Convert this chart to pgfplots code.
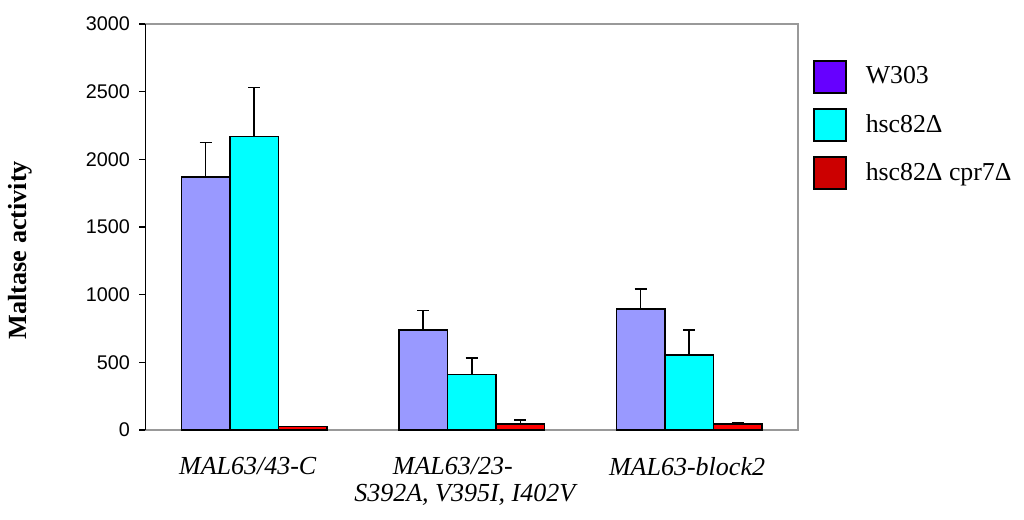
\documentclass[border=0pt]{standalone}
\usepackage{pgfplots}
\pgfplotsset{compat=1.18}
\usepackage{fontspec}
\setmainfont{Liberation Serif}
\newfontfamily\arialfont{Liberation Sans}
\definecolor{lav}{HTML}{9999FF}
\definecolor{legpurple}{HTML}{6600FF}
\definecolor{cyanb}{HTML}{00FFFF}
\definecolor{redb}{HTML}{FF0000}
\definecolor{legred}{HTML}{CC0000}
\definecolor{axgray}{HTML}{999999}
\begin{document}
\begin{tikzpicture}
\path[use as bounding box] (-72.75pt,-45pt) rectangle (439.25pt,215pt);
\begin{axis}[
  at={(0,0)}, anchor=south west,
  scale only axis,
  width=326.25pt, height=203pt,
  xmin=-0.5, xmax=2.5,
  ymin=0, ymax=3000,
  ytick={0,500,1000,1500,2000,2500,3000},
  ytick pos=left,
  xtick={-0.03,0.968,1.99},
  xticklabels={{MAL63/43-C},{MAL63/23-\hspace*{12pt}\\S392A, V395I, I402V},{MAL63-block2}},
  xticklabel style={align=center, font=\fontsize{13}{13.5}\selectfont\itshape, yshift=-7.3pt},
  x tick style={draw=none},
  major x tick style={draw=none},
  tick align=outside,
  y tick style={black, line width=0.6pt},
  major tick length=3pt,
  yticklabel style={font=\arialfont\fontsize{9.9}{11}\selectfont, xshift=-1.3pt},
  /pgf/number format/assume math mode=true,
  /pgf/number format/1000 sep={},
  axis line style={draw=axgray, line width=0.6pt},
  clip=false,
  ylabel={Maltase activity},
  every axis y label/.style={at={(axis description cs:-0.19234,0.443)}, rotate=90, anchor=center, font=\bfseries\fontsize{13.1}{14}\selectfont},
  legend image code/.code={\draw[#1, draw=black, line width=1pt] (0pt,-8pt) rectangle (16pt,8pt);},
  legend style={at={(rel axis cs:1,1)}, anchor=north west, xshift=7.5pt, yshift=-17.6pt,
    draw=none, fill=none, inner sep=0pt, row sep=7.2pt,
    font=\fontsize{12.9}{14}\selectfont,
    nodes={inner sep=0pt, anchor=west}, column sep=9.2pt},
  legend cell align=left,
]
\addplot[ybar, bar width=0.2235, bar shift=0, fill=lav, draw=black, line width=0.75pt, forget plot,
  error bars/.cd, y dir=plus, y explicit, error bar style={black, line width=0.8pt}, error mark options={rotate=90, mark size=3pt, black, line width=0.8pt}]
  coordinates {(-0.2235,1870) +- (0,253) (0.7765,739) +- (0,145) (1.7765,895) +- (0,146)};
\addplot[ybar, bar width=0.2235, bar shift=0, fill=cyanb, draw=black, line width=0.75pt, forget plot,
  error bars/.cd, y dir=plus, y explicit, error bar style={black, line width=0.8pt}, error mark options={rotate=90, mark size=3pt, black, line width=0.8pt}]
  coordinates {(0,2167) +- (0,363) (1,409) +- (0,121) (2,556) +- (0,183)};
\addplot[ybar, bar width=0.2235, bar shift=0, fill=redb, draw=black, line width=0.75pt, forget plot,
  error bars/.cd, y dir=plus, y explicit, error bar style={black, line width=0.8pt}, error mark options={rotate=90, mark size=3pt, black, line width=0.8pt}]
  coordinates {(0.2235,25) +- (0,0) (1.2235,44) +- (0,28) (2.2235,44) +- (0,12)};
\draw[black, line width=0.6pt] (rel axis cs:0,0) -- (rel axis cs:0,1);
\addlegendimage{fill=legpurple}
\addlegendentry{W303}
\addlegendimage{fill=cyanb}
\addlegendentry{hsc82Δ}
\addlegendimage{fill=legred}
\addlegendentry{hsc82Δ cpr7Δ}
\end{axis}
\end{tikzpicture}
\end{document}
